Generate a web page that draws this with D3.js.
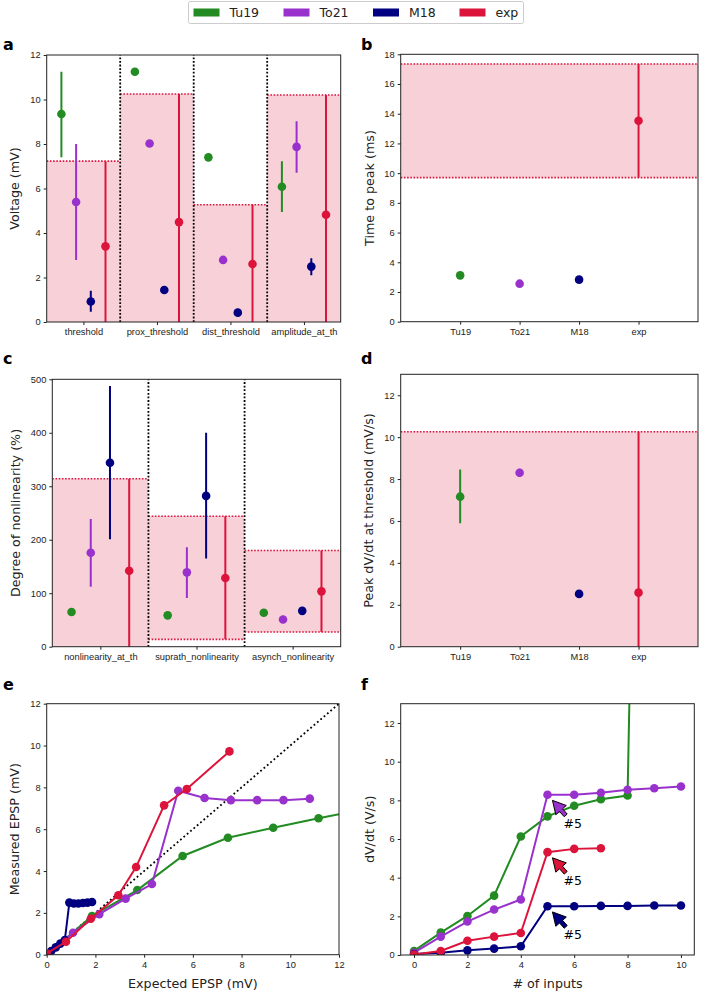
<!DOCTYPE html>
<html>
<head>
<meta charset="utf-8">
<script src="https://cdn.jsdelivr.net/npm/d3@7"></script>
<style>
  body { margin: 0; background: #fff; }
  svg { display: block; font-family: "DejaVu Sans", sans-serif; }
</style>
</head>
<body>
<div id="chart"></div>
<script>
// models and colours
const models = ["Tu19", "To21", "M18", "exp"];
const colors = ["#228b22", "#9932cc", "#000080", "#dc143c"];

// panel a: voltage features (rows = feature, cols = model)
const voltFeatures = ["threshold", "prox_threshold", "dist_threshold", "amplitude_at_th"];
const voltMean = [
  [9.35, 5.39, 0.92, 3.4],
  [11.25, 8.02, 1.44, 4.49],
  [7.4, 2.79, 0.42, 2.61],
  [6.08, 7.87, 2.49, 4.82]
];
const voltLo = [
  [7.4, 2.79, 0.46, 0],
  [null, null, null, 0],
  [null, null, null, 0],
  [4.94, 6.71, 2.1, 0]
];
const voltHi = [
  [11.25, 8.0, 1.41, 7.23],
  [null, null, null, 10.25],
  [null, null, null, 5.27],
  [7.22, 9.02, 2.86, 10.2]
];

// panel b: time to peak
const peakTime = [3.12, 2.56, 2.83, 13.53];
const peakTimeLo = [null, null, null, 9.7];
const peakTimeHi = [null, null, null, 17.35];

// panel c: nonlinearity
const nlFeatures = ["nonlinearity_at_th", "suprath_nonlinearity", "asynch_nonlinearity"];
const nlMean = [
  [64.8, 175.8, 344, 142],
  [58.6, 139, 282, 128.4],
  [63.6, 51, 67, 103.5]
];
const nlLo = [
  [null, 112, 200.7, 0],
  [null, 91, 165, 13.7],
  [null, null, null, 27.4]
];
const nlHi = [
  [null, 238.8, 487.5, 314],
  [null, 185.8, 400, 244],
  [null, null, null, 180]
];

// panel d: peak dV/dt at threshold
const dvdtTh = [7.16, 8.3, 2.52, 2.58];
const dvdtThLo = [5.89, 8.1, null, 0];
const dvdtThHi = [8.46, 8.49, null, 10.26];

// panel e: expected vs measured EPSP
const expectedTu19 = [0, 1.86, 3.72, 5.58, 7.44, 9.3, 11.16, 13.02];
const measuredTu19 = [0, 1.85, 3.09, 4.72, 5.59, 6.07, 6.52, 6.95];
const expectedTo21 = [0, 1.08, 2.16, 3.24, 4.32, 5.4, 6.48, 7.56, 8.64, 9.72, 10.8];
const measuredTo21 = [0, 1.05, 1.94, 2.68, 3.38, 7.84, 7.49, 7.39, 7.39, 7.39, 7.46];
const expectedM18 = [0, 0.186, 0.372, 0.558, 0.744, 0.93, 1.116, 1.302, 1.488, 1.674, 1.86];
const measuredM18 = [0.02, 0.18, 0.35, 0.53, 0.7, 2.49, 2.45, 2.45, 2.47, 2.49, 2.52];
const expectedExp = [0, 0.79, 1.81, 2.94, 3.67, 4.82, 5.75, 7.5];
const measuredExp = [0.06, 0.62, 1.72, 2.84, 4.19, 7.14, 7.92, 9.72];

// panel f: dV/dt vs number of inputs
const dvdtTu19 = [0.21, 1.16, 2.02, 3.07, 6.13, 7.17, 7.72, 8.06, 8.25, 80];
const dvdtTo21 = [0.12, 0.95, 1.73, 2.35, 2.87, 8.29, 8.29, 8.39, 8.55, 8.63, 8.72];
const dvdtM18 = [0.05, 0.12, 0.24, 0.33, 0.45, 2.52, 2.52, 2.54, 2.54, 2.56, 2.56];
const dvdtExp = [0.02, 0.21, 0.74, 0.95, 1.14, 5.32, 5.49, 5.52];
const annotInput = 5;

const svg = d3.select("#chart").append("svg")
  .attr("width", 709)
  .attr("height", 999);

const ink = "#222";
const tickFont = "9.3px";
const labelFont = "12.7px";

// generic axes box
function makeAxes(box, xDomain, yDomain) {
  const x = d3.scaleLinear().domain(xDomain).range([box.left, box.right]);
  const y = d3.scaleLinear().domain(yDomain).range([box.bottom, box.top]);
  const g = svg.append("g");
  const clipId = "clip" + Math.round(box.left) + "_" + Math.round(box.top);
  g.append("clipPath").attr("id", clipId)
    .append("rect")
    .attr("x", box.left).attr("y", box.top)
    .attr("width", box.right - box.left).attr("height", box.bottom - box.top);
  const plot = g.append("g").attr("clip-path", `url(#${clipId})`);
  return {x, y, g, plot, box};
}

function finishAxes(ax, xAxis, yAxis, xLabel, yLabel, yLabelX) {
  const {g, box} = ax;
  g.append("rect")
    .attr("x", box.left).attr("y", box.top)
    .attr("width", box.right - box.left).attr("height", box.bottom - box.top)
    .attr("fill", "none").attr("stroke", ink).attr("stroke-width", 1);
  const xa = g.append("g")
    .attr("transform", `translate(0,${box.bottom})`)
    .call(xAxis.tickSize(3).tickPadding(3.5));
  const ya = g.append("g")
    .attr("transform", `translate(${box.left},0)`)
    .call(yAxis.tickSize(3).tickPadding(3));
  [xa, ya].forEach(a => {
    a.select(".domain").remove();
    a.selectAll("line").attr("stroke", ink);
    a.selectAll("text").attr("fill", ink).style("font-size", tickFont);
  });
  if (xLabel) {
    g.append("text")
      .attr("x", (box.left + box.right) / 2)
      .attr("y", box.bottom + 33)
      .attr("text-anchor", "middle")
      .style("font-size", labelFont)
      .attr("fill", ink)
      .text(xLabel);
  }
  g.append("text")
    .attr("transform", `translate(${yLabelX},${(box.top + box.bottom) / 2}) rotate(-90)`)
    .attr("text-anchor", "middle")
    .attr("dy", "0.35em")
    .style("font-size", labelFont)
    .attr("fill", ink)
    .text(yLabel);
}

function panelLabel(txt, x, y) {
  svg.append("text")
    .attr("x", x).attr("y", y)
    .style("font-size", "16px")
    .style("font-weight", "bold")
    .attr("fill", "#000")
    .text(txt);
}

function band(ax, x0, x1, lo, hi) {
  const {x, y, plot} = ax;
  plot.append("rect")
    .attr("x", x(x0)).attr("y", y(hi))
    .attr("width", x(x1) - x(x0)).attr("height", y(lo) - y(hi))
    .attr("fill", "#dc143c").attr("fill-opacity", 0.2);
  [lo, hi].forEach(v => {
    if (v <= 0) return;
    plot.append("line")
      .attr("x1", x(x0)).attr("x2", x(x1))
      .attr("y1", y(v)).attr("y2", y(v))
      .attr("stroke", "#dc143c").attr("stroke-width", 1.6)
      .attr("stroke-dasharray", "1.6,1.6");
  });
}

function divider(ax, xv) {
  const {x, y, plot} = ax;
  const d = y.domain();
  plot.append("line")
    .attr("x1", x(xv)).attr("x2", x(xv))
    .attr("y1", y(d[0])).attr("y2", y(d[1]))
    .attr("stroke", "#000").attr("stroke-width", 1.8)
    .attr("stroke-dasharray", "1.8,1.8");
}

function errPoint(ax, xv, v, lo, hi, color) {
  const {x, y, plot} = ax;
  if (lo != null) {
    plot.append("line")
      .attr("x1", x(xv)).attr("x2", x(xv))
      .attr("y1", y(lo)).attr("y2", y(hi))
      .attr("stroke", color).attr("stroke-width", 2);
  }
  plot.append("circle")
    .attr("cx", x(xv)).attr("cy", y(v)).attr("r", 4.3)
    .attr("fill", color);
}

// ---------- legend ----------
const legend = svg.append("g");
legend.append("rect")
  .attr("x", 188.5).attr("y", 1.5).attr("width", 335).attr("height", 22)
  .attr("rx", 2).attr("fill", "#fff").attr("stroke", "#ccc");
const legendX = [193.5, 283.5, 373, 459.5];
models.forEach((m, i) => {
  legend.append("rect")
    .attr("x", legendX[i]).attr("y", 8.5).attr("width", 26).attr("height", 8)
    .attr("fill", colors[i]);
  legend.append("text")
    .attr("x", legendX[i] + 36).attr("y", 17)
    .style("font-size", "12.5px").attr("fill", ink)
    .text(m);
});

// ---------- panel a ----------
const axA = makeAxes({left: 46.7, right: 340.7, top: 55, bottom: 322}, [0, 4], [0, 12]);
voltFeatures.forEach((f, gi) => band(axA, gi, gi + 1, voltLo[gi][3], voltHi[gi][3]));
[1, 2, 3].forEach(v => divider(axA, v));
voltFeatures.forEach((f, gi) => {
  models.forEach((m, i) => {
    errPoint(axA, gi + (i + 1) / 5, voltMean[gi][i], voltLo[gi][i], voltHi[gi][i], colors[i]);
  });
});
finishAxes(axA,
  d3.axisBottom(axA.x).tickValues([0.5, 1.5, 2.5, 3.5]).tickFormat((d, i) => voltFeatures[i]),
  d3.axisLeft(axA.y).tickValues(d3.range(0, 13, 2)),
  null, "Voltage (mV)", 15);
panelLabel("a", 3, 50);

// ---------- panel b ----------
const axB = makeAxes({left: 400.7, right: 698, top: 54.3, bottom: 321.7}, [-1, 4], [0, 18]);
band(axB, -1, 4, peakTimeLo[3], peakTimeHi[3]);
models.forEach((m, i) => errPoint(axB, i, peakTime[i], peakTimeLo[i], peakTimeHi[i], colors[i]));
finishAxes(axB,
  d3.axisBottom(axB.x).tickValues([0, 1, 2, 3]).tickFormat((d, i) => models[i]),
  d3.axisLeft(axB.y).tickValues(d3.range(0, 19, 2)),
  null, "Time to peak (ms)", 370);
panelLabel("b", 361, 50);

// ---------- panel c ----------
const axC = makeAxes({left: 52.3, right: 340.7, top: 379.3, bottom: 646.7}, [0, 3], [0, 500]);
nlFeatures.forEach((f, gi) => band(axC, gi, gi + 1, nlLo[gi][3], nlHi[gi][3]));
[1, 2].forEach(v => divider(axC, v));
nlFeatures.forEach((f, gi) => {
  models.forEach((m, i) => {
    errPoint(axC, gi + (i + 1) / 5, nlMean[gi][i], nlLo[gi][i], nlHi[gi][i], colors[i]);
  });
});
finishAxes(axC,
  d3.axisBottom(axC.x).tickValues([0.5, 1.5, 2.5]).tickFormat((d, i) => nlFeatures[i]),
  d3.axisLeft(axC.y).tickValues(d3.range(0, 501, 100)),
  null, "Degree of nonlinearity (%)", 16);
panelLabel("c", 3, 364);

// ---------- panel d ----------
const axD = makeAxes({left: 400.7, right: 698, top: 374.3, bottom: 646.7}, [-1, 4], [0, 13]);
band(axD, -1, 4, dvdtThLo[3], dvdtThHi[3]);
models.forEach((m, i) => errPoint(axD, i, dvdtTh[i], dvdtThLo[i], dvdtThHi[i], colors[i]));
finishAxes(axD,
  d3.axisBottom(axD.x).tickValues([0, 1, 2, 3]).tickFormat((d, i) => models[i]),
  d3.axisLeft(axD.y).tickValues(d3.range(0, 13, 2)),
  null, "Peak dV/dt at threshold (mV/s)", 369);
panelLabel("d", 361, 364);

// ---------- panel e ----------
const axE = makeAxes({left: 46.7, right: 339, top: 703.7, bottom: 954.7}, [0, 12], [0, 12]);
axE.plot.append("line")
  .attr("x1", axE.x(0)).attr("y1", axE.y(0))
  .attr("x2", axE.x(12)).attr("y2", axE.y(12))
  .attr("stroke", "#000").attr("stroke-width", 1.8)
  .attr("stroke-dasharray", "1.8,2.6");
const eSeries = [
  [expectedTu19, measuredTu19],
  [expectedTo21, measuredTo21],
  [expectedM18, measuredM18],
  [expectedExp, measuredExp]
];
eSeries.forEach(([xs, ys], i) => {
  const pts = xs.map((v, k) => [v, ys[k]]);
  axE.plot.append("path")
    .attr("d", d3.line().x(d => axE.x(d[0])).y(d => axE.y(d[1]))(pts))
    .attr("fill", "none").attr("stroke", colors[i]).attr("stroke-width", 2);
  axE.plot.selectAll(null).data(pts).enter().append("circle")
    .attr("cx", d => axE.x(d[0])).attr("cy", d => axE.y(d[1])).attr("r", 4.3)
    .attr("fill", colors[i]);
});
finishAxes(axE,
  d3.axisBottom(axE.x).tickValues(d3.range(0, 13, 2)),
  d3.axisLeft(axE.y).tickValues(d3.range(0, 13, 2)),
  "Expected EPSP (mV)", "Measured EPSP (mV)", 15);
panelLabel("e", 3, 690);

// ---------- panel f ----------
const axF = makeAxes({left: 400.7, right: 694.3, top: 703.7, bottom: 955}, [-0.5, 10.5], [0, 13]);
const fSeries = [dvdtTu19, dvdtTo21, dvdtM18, dvdtExp];
fSeries.forEach((ys, i) => {
  const pts = ys.map((v, k) => [k, v]);
  axF.plot.append("path")
    .attr("d", d3.line().x(d => axF.x(d[0])).y(d => axF.y(d[1]))(pts))
    .attr("fill", "none").attr("stroke", colors[i]).attr("stroke-width", 2);
  axF.plot.selectAll(null).data(pts).enter().append("circle")
    .attr("cx", d => axF.x(d[0])).attr("cy", d => axF.y(d[1])).attr("r", 4.3)
    .attr("fill", colors[i]);
});

// "#5" annotations with arrows for To21, M18 and exp
[1, 3, 2].forEach(i => {
  const v = fSeries[i][annotInput];
  const px = axF.x(annotInput), py = axF.y(v);
  const tx = axF.x(annotInput + 0.6), ty = axF.y(v - 1.7);
  const cx = tx + 9, cy = ty - 4.5;
  const len = Math.hypot(cx - px, cy - py);
  const ux = (cx - px) / len, uy = (cy - py) / len;
  const nx = -uy, ny = ux;
  const T = [px + ux * 7.5, py + uy * 7.5];
  const hl = 13, hw = 7, sw = 2, L = 20;
  const B = [T[0] + ux * hl, T[1] + uy * hl];
  const E = [T[0] + ux * L, T[1] + uy * L];
  const poly = [
    T,
    [B[0] + nx * hw, B[1] + ny * hw],
    [B[0] + nx * sw, B[1] + ny * sw],
    [E[0] + nx * sw, E[1] + ny * sw],
    [E[0] - nx * sw, E[1] - ny * sw],
    [B[0] - nx * sw, B[1] - ny * sw],
    [B[0] - nx * hw, B[1] - ny * hw]
  ];
  axF.g.append("path")
    .attr("d", "M" + poly.map(p => p.join(",")).join("L") + "Z")
    .attr("fill", colors[i]).attr("stroke", "#000").attr("stroke-width", 1)
    .attr("stroke-linejoin", "miter");
  axF.g.append("text")
    .attr("x", tx).attr("y", ty)
    .style("font-size", "12.5px").attr("fill", "#000")
    .text("#" + annotInput);
});

finishAxes(axF,
  d3.axisBottom(axF.x).tickValues(d3.range(0, 11, 2)),
  d3.axisLeft(axF.y).tickValues(d3.range(0, 13, 2)),
  "# of inputs", "dV/dt (V/s)", 370);
panelLabel("f", 361, 690);
</script>
</body>
</html>
